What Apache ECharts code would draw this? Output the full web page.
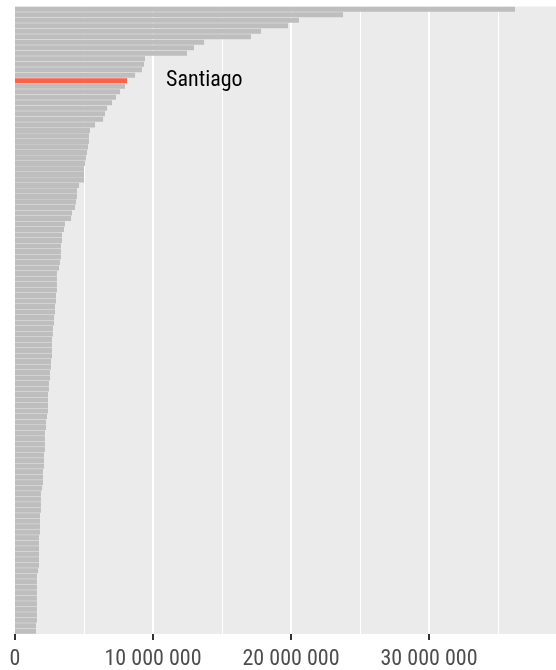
<!DOCTYPE html>
<html>
<head>
<meta charset="utf-8">
<script src="https://cdn.jsdelivr.net/npm/echarts@6/dist/echarts.min.js"></script>
<style>
  html, body { margin: 0; padding: 0; background: #fff; }
  #chart { width: 556px; height: 670px; }
</style>
</head>
<body>
<div id="chart"></div>
<script>
// population per city, largest first
const population = [
    36230000, 23770000, 20580000, 19780000, 17830000, 17100000, 13700000, 12970000,
    12460000, 9420000, 9350000, 9200000, 8700000, 8120000, 7970000, 7610000,
    7320000, 7030000, 6670000, 6520000, 6380000, 5800000, 5430000, 5360000,
    5360000, 5290000, 5220000, 5140000, 5070000, 5000000, 5000000, 5000000,
    4640000, 4490000, 4490000, 4420000, 4350000, 4130000, 4060000, 3620000,
    3550000, 3410000, 3410000, 3330000, 3330000, 3330000, 3260000, 3190000,
    3040000, 3040000, 3040000, 3040000, 2970000, 2970000, 2900000, 2900000,
    2830000, 2830000, 2750000, 2750000, 2680000, 2680000, 2680000, 2680000,
    2610000, 2610000, 2540000, 2540000, 2460000, 2460000, 2390000, 2390000,
    2390000, 2390000, 2320000, 2250000, 2250000, 2170000, 2170000, 2170000,
    2170000, 2100000, 2100000, 2100000, 2030000, 2030000, 2030000, 1960000,
    1880000, 1880000, 1880000, 1880000, 1810000, 1810000, 1810000, 1810000,
    1740000, 1740000, 1740000, 1740000, 1740000, 1740000, 1670000, 1590000,
    1590000, 1590000, 1590000, 1590000, 1590000, 1590000, 1590000, 1590000,
    1520000, 1520000
];

const highlightCity = 'Santiago';
const highlightIndex = 13;

const cities = population.map((_, i) => i === highlightIndex ? highlightCity : 'city ' + (i + 1));

const xTicks = [0, 10000000, 20000000, 30000000];

function spaced(v) {
    return String(v).replace(/\B(?=(\d{3})+(?!\d))/g, ' ');
}

const chart = echarts.init(document.getElementById('chart'));

const option = {
    animation: false,
    grid: {
        left: 15,
        top: 6.5,
        width: 552,
        height: 627.5,
        containLabel: false,
        outerBoundsMode: 'none',
        show: true,
        backgroundColor: '#EBEBEB',
        borderWidth: 0
    },
    xAxis: {
        type: 'value',
        min: 0,
        max: 40000000,
        interval: 10000000,
        axisLine: { show: false },
        axisTick: {
            show: true,
            length: 6,
            lineStyle: { color: '#333333', width: 2 }
        },
        axisLabel: {
            margin: 14,
            color: '#4D4D4D',
            fontSize: 22,
            fontFamily: "'Roboto Condensed'",
            formatter: function (v) {
                return xTicks.indexOf(v) >= 0 ? spaced(v) : '';
            }
        },
        splitLine: {
            show: true,
            showMinLine: false,
            lineStyle: { color: '#FFFFFF', width: 2 }
        },
        minorTick: { show: false, splitNumber: 2 },
        minorSplitLine: {
            show: true,
            lineStyle: { color: '#FFFFFF', width: 1 }
        }
    },
    yAxis: {
        type: 'category',
        inverse: true,
        data: cities,
        axisLine: { show: false },
        axisTick: { show: false },
        axisLabel: { show: false },
        splitLine: { show: false }
    },
    series: [{
        type: 'bar',
        barCategoryGap: '8%',
        itemStyle: { color: '#BEBEBE' },
        data: population.map((v, i) => {
            if (i !== highlightIndex) return v;
            return {
                value: v,
                itemStyle: { color: '#FF6347' },
                label: {
                    show: true,
                    position: 'right',
                    distance: 39,
                    formatter: highlightCity,
                    color: '#000000',
                    fontSize: 22,
                    fontFamily: "'Roboto Condensed'"
                }
            };
        })
    }]
};

chart.setOption(option);
</script>
</body>
</html>
